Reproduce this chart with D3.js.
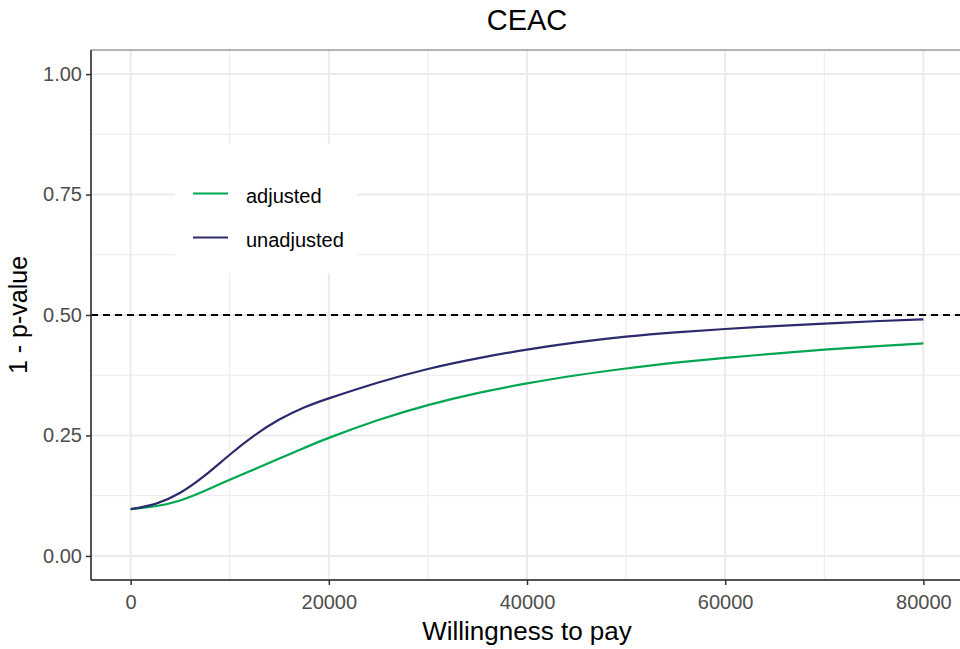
<!DOCTYPE html>
<html>
<head>
<meta charset="utf-8">
<script src="https://cdn.jsdelivr.net/npm/d3@7"></script>
<style>
  body { margin: 0; background: #fff; }
  svg { font-family: "Liberation Sans", Arial, sans-serif; }
</style>
</head>
<body>
<script>
// data
const wtp        = [0, 2500, 5000, 7500, 10000, 12500, 15000, 17500, 20000, 25000, 30000, 35000, 40000, 45000, 50000, 55000, 60000, 65000, 70000, 75000, 80000]
const adjusted   = [0.097, 0.103, 0.115, 0.135, 0.158, 0.180, 0.202, 0.224, 0.245, 0.282, 0.313, 0.338, 0.358, 0.375, 0.389, 0.401, 0.411, 0.420, 0.428, 0.435, 0.441]
const unadjusted = [0.097, 0.108, 0.131, 0.167, 0.210, 0.250, 0.283, 0.308, 0.327, 0.360, 0.388, 0.410, 0.428, 0.443, 0.455, 0.464, 0.471, 0.477, 0.482, 0.487, 0.491]
const xTicks = [0, 20000, 40000, 60000, 80000]
const yTicks = [0, 0.25, 0.5, 0.75, 1]
const xMinor = [10000, 30000, 50000, 70000]
const yMinor = [0.125, 0.375, 0.625, 0.875]
const seriesNames  = ["adjusted", "unadjusted"]
const seriesColors = ["#00a651", "#2c2a6c"]

const width = 960, height = 649
const panel = { left: 91, top: 50, right: 963, bottom: 580 }

const svg = d3.select("body").append("svg")
    .attr("width", width)
    .attr("height", height)

const x = d3.scaleLinear()
    .domain([-4000, 84000])
    .range([panel.left, panel.right])

const y = d3.scaleLinear()
    .domain([-0.05, 1.05])
    .range([panel.bottom, panel.top])

// grid
const grid = svg.append("g")
grid.selectAll(".xminor").data(xMinor).enter().append("line")
    .attr("x1", d => x(d)).attr("x2", d => x(d))
    .attr("y1", panel.top).attr("y2", panel.bottom)
    .attr("stroke", "#ebebeb").attr("stroke-width", 1)
grid.selectAll(".yminor").data(yMinor).enter().append("line")
    .attr("y1", d => y(d)).attr("y2", d => y(d))
    .attr("x1", panel.left).attr("x2", panel.right)
    .attr("stroke", "#ebebeb").attr("stroke-width", 1)
grid.selectAll(".xmajor").data(xTicks).enter().append("line")
    .attr("x1", d => x(d)).attr("x2", d => x(d))
    .attr("y1", panel.top).attr("y2", panel.bottom)
    .attr("stroke", "#ebebeb").attr("stroke-width", 2)
grid.selectAll(".ymajor").data(yTicks).enter().append("line")
    .attr("y1", d => y(d)).attr("y2", d => y(d))
    .attr("x1", panel.left).attr("x2", panel.right)
    .attr("stroke", "#ebebeb").attr("stroke-width", 2)

// reference line at 0.5
svg.append("line")
    .attr("x1", panel.left).attr("x2", panel.right)
    .attr("y1", y(0.5)).attr("y2", y(0.5))
    .attr("stroke", "#000").attr("stroke-width", 2)
    .attr("stroke-dasharray", "7,5")

// curves
const line = d3.line()
    .x(d => x(d[0]))
    .y(d => y(d[1]))
    .curve(d3.curveNatural)

const series = [adjusted, unadjusted]
series.forEach((vals, i) => {
    svg.append("path")
        .datum(wtp.map((w, j) => [w, vals[j]]))
        .attr("d", line)
        .attr("fill", "none")
        .attr("stroke", seriesColors[i])
        .attr("stroke-width", 2.2)
})

// panel border
svg.append("rect")
    .attr("x", panel.left).attr("y", panel.top)
    .attr("width", panel.right - panel.left)
    .attr("height", panel.bottom - panel.top)
    .attr("fill", "none")
    .attr("stroke", "#6b6b6b").attr("stroke-width", 1)

// axes
const xAxis = svg.append("g")
    .attr("transform", `translate(0,${panel.bottom})`)
    .call(d3.axisBottom(x).tickValues(xTicks).tickFormat(d3.format("d")).tickSize(5).tickPadding(10))
const yAxis = svg.append("g")
    .attr("transform", `translate(${panel.left},0)`)
    .call(d3.axisLeft(y).tickValues(yTicks).tickFormat(d3.format(".2f")).tickSize(5).tickPadding(4))

;[xAxis, yAxis].forEach(a => {
    a.select(".domain").attr("stroke", "#333").attr("stroke-width", 1.5)
    a.selectAll(".tick line").attr("stroke", "#333").attr("stroke-width", 1.5)
    a.selectAll(".tick text")
        .attr("fill", "#4d4d4d")
        .style("font-size", "20px")
        .style("font-family", "Liberation Sans, Arial, sans-serif")
})
xAxis.select(".domain").attr("d", `M${panel.left},0H${panel.right}`)
yAxis.select(".domain").attr("d", `M0,${panel.top}V${panel.bottom}`)

// legend
const legend = svg.append("g")
legend.append("rect")
    .attr("x", 175).attr("y", 144)
    .attr("width", 182).attr("height", 129)
    .attr("fill", "#fff")

seriesNames.forEach((name, i) => {
    const ly = 193.5 + i * 44
    legend.append("line")
        .attr("x1", 193).attr("x2", 228)
        .attr("y1", ly).attr("y2", ly)
        .attr("stroke", seriesColors[i]).attr("stroke-width", 2.2)
    legend.append("text")
        .attr("x", 246).attr("y", ly + 9.5)
        .attr("fill", "#000")
        .style("font-size", "20px")
        .text(name)
})

// titles
svg.append("text")
    .attr("x", (panel.left + panel.right) / 2).attr("y", 30)
    .attr("text-anchor", "middle")
    .style("font-size", "29px")
    .text("CEAC")

svg.append("text")
    .attr("x", (panel.left + panel.right) / 2).attr("y", 640)
    .attr("text-anchor", "middle")
    .style("font-size", "26px")
    .text("Willingness to pay")

svg.append("text")
    .attr("transform", `translate(27,${y(0.5)}) rotate(-90)`)
    .attr("text-anchor", "middle")
    .style("font-size", "25px")
    .text("1 - p-value")
</script>
</body>
</html>
